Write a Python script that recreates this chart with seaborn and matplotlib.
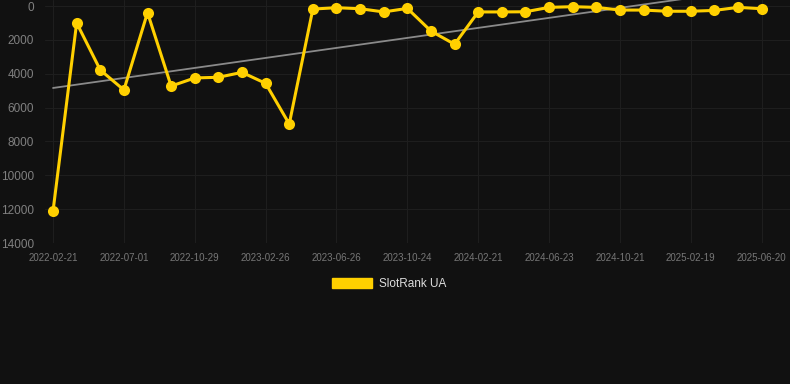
import numpy as np
import pandas as pd
import matplotlib
matplotlib.use("Agg")
import matplotlib.pyplot as plt
import seaborn as sns
from matplotlib.patches import Patch

# rank values, one per sample point
ranks = [12110, 1000, 3780, 4960, 390, 4730, 4250, 4210, 3920, 4570,
         6970, 180, 100, 160, 350, 140, 1480, 2260, 350, 350,
         340, 80, 40, 80, 240, 240, 310, 310, 260, 80, 160]
tick_labels = ["2022-02-21", "2022-07-01", "2022-10-29", "2023-02-26",
               "2023-06-26", "2023-10-24", "2024-02-21", "2024-06-23",
               "2024-10-21", "2025-02-19", "2025-06-20"]
series_name = "SlotRank UA"

df = pd.DataFrame({"idx": np.arange(len(ranks)), "rank": ranks})

bg = "#111111"
gold = "#FFD000"

sns.set_style("dark")
plt.rcParams["font.family"] = ["Liberation Sans", "DejaVu Sans"]

fig = plt.figure(figsize=(7.9, 3.84), dpi=100, facecolor=bg)
ax = fig.add_axes([45 / 790, 1 - 243 / 384, 1 - 45 / 790, 243 / 384])
ax.set_facecolor(bg)

# trend line
sns.regplot(data=df, x="idx", y="rank", scatter=False, ci=None, ax=ax,
            line_kws={"color": "#8a8a8a", "lw": 1.3, "zorder": 2})

sns.lineplot(data=df, x="idx", y="rank", ax=ax, color=gold, lw=2.2,
             marker="o", markersize=8, markeredgewidth=0, zorder=3)
ax.lines[-1].set_clip_on(False)

ax.set_xlim(-0.34, 31.2)
ax.set_ylim(14000, -355)
ax.set_yticks(np.arange(0, 14001, 2000))
ax.set_yticklabels([str(v) for v in range(0, 14001, 2000)])
ax.set_xticks(np.arange(0, len(ranks), 3))
ax.set_xticklabels(tick_labels)

ax.grid(True, color="#1e1e1e", lw=0.8)
ax.tick_params(axis="x", colors="#777777", labelsize=7, length=4, color="#2a2a2a", pad=3)
ax.tick_params(axis="y", colors="#808080", labelsize=8.5, length=0, pad=8)
for s in ax.spines.values():
    s.set_visible(False)
ax.set_xlabel("")
ax.set_ylabel("")

fig.legend(handles=[Patch(facecolor=gold, edgecolor=gold)], labels=[series_name],
           loc="center", bbox_to_anchor=(389 / 790, 1 - 284 / 384), frameon=False,
           handlelength=3.4, handleheight=0.9, handletextpad=0.55, fontsize=8.5,
           labelcolor="#dddddd")

fig.savefig("out.png", dpi=100, facecolor=bg)
